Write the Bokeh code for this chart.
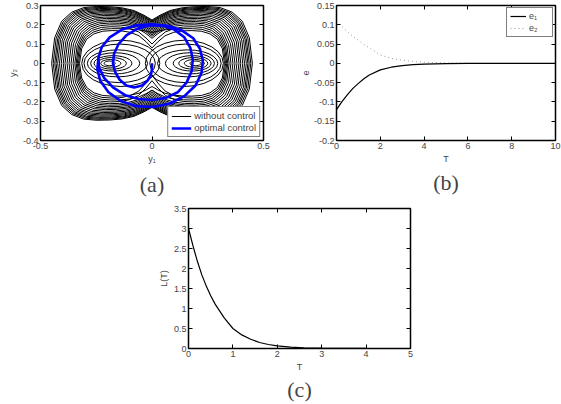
from bokeh.plotting import figure
from bokeh.layouts import row, column
from bokeh.models import (Range1d, FixedTicker, LinearAxis, Spacer, Title,
                          Legend, LegendItem)
from bokeh.embed import file_html
from bokeh.resources import INLINE

# ---------------- data : panel (a) ----------------
# normalised upper-half outline of a two-lobed orbit (x, lobe part, waist part)
BEAN_U = [-1, -0.97, -0.9, -0.8, -0.68, -0.55, -0.42, -0.3, -0.18, -0.08, 0,
          0.08, 0.18, 0.3, 0.42, 0.55, 0.68, 0.8, 0.9, 0.97, 1]
BEAN_A = [0, 0.45, 0.74, 0.9, 0.98, 1.0, 0.98, 0.9, 0.7, 0.35, 0,
          0.35, 0.7, 0.9, 0.98, 1.0, 0.98, 0.9, 0.74, 0.45, 0]
BEAN_B = [0, 0, 0, 0, 0, 0, 0.02, 0.1, 0.3, 0.65, 1,
          0.65, 0.3, 0.1, 0.02, 0, 0, 0, 0, 0, 0]
# orbits of the uncontrolled trajectory: half width, lobe height,
# upper waist height, lower waist height
ORBIT_X = [0.45, 0.443, 0.436, 0.43, 0.423, 0.415, 0.407, 0.398, 0.39, 0.381,
           0.372, 0.363, 0.354, 0.346, 0.34, 0.335, 0.33, 0.325]
ORBIT_Y = [0.295, 0.29, 0.285, 0.28, 0.274, 0.268, 0.262, 0.255, 0.248, 0.24,
           0.233, 0.225, 0.217, 0.209, 0.2, 0.19, 0.18, 0.17]
ORBIT_WT = [0.225, 0.221, 0.216, 0.212, 0.206, 0.2, 0.194, 0.187, 0.18, 0.172,
            0.164, 0.156, 0.148, 0.14, 0.13, 0.1, 0.16, 0.08]
ORBIT_WB = [0.228, 0.224, 0.22, 0.215, 0.21, 0.204, 0.197, 0.19, 0.182, 0.174,
            0.166, 0.157, 0.148, 0.138, 0.09, 0.14, 0.06, 0.12]
# loops inside the two wells
ELL_C = [1, .966, .866, .707, .5, .259, 0, -.259, -.5, -.707, -.866, -.966, -1]
ELL_S = [0, .259, .5, .707, .866, .966, 1, .966, .866, .707, .5, .259, 0]
WELL_CENTER = [-0.19, 0.195]
WELL_R = [0.025, 0.045, 0.065, 0.085, 0.11, 0.135, 0.16, 0.175]
WELL_H = [0.012, 0.02, 0.03, 0.04, 0.055, 0.07, 0.1, 0.12]
WELL_SHIFT = [0, 0.005, 0.01, 0.015, 0.025, 0.035, 0.045, 0.05]
# optimal-control trajectory
OPT_Y1 = [0.0, 0.0, -0.005, -0.02, -0.045, -0.08, -0.115, -0.145, -0.165, -0.175,
          -0.17, -0.15, -0.115, -0.065, -0.01, 0.05, 0.1, 0.145, 0.172, 0.183,
          0.178, 0.155, 0.115, 0.06, 0.0, -0.06, -0.12, -0.175, -0.215, -0.238,
          -0.24, -0.225, -0.19, -0.135, -0.07, 0.0, 0.07, 0.135, 0.185, 0.215,
          0.228, 0.222, 0.195, 0.145, 0.08, 0.005, -0.07, -0.14, -0.195, -0.232,
          -0.245, -0.24]
OPT_Y2 = [0.0, -0.03, -0.06, -0.09, -0.115, -0.125, -0.115, -0.085, -0.045, 0.0,
          0.05, 0.1, 0.145, 0.18, 0.198, 0.195, 0.175, 0.135, 0.08, 0.02,
          -0.04, -0.1, -0.15, -0.18, -0.19, -0.185, -0.165, -0.125, -0.075, -0.02,
          0.03, 0.085, 0.135, 0.175, 0.197, 0.202, 0.195, 0.17, 0.13, 0.075,
          0.015, -0.05, -0.115, -0.17, -0.208, -0.226, -0.222, -0.195, -0.15, -0.09,
          -0.03, 0.03]
A_XTICKS = [-0.5, 0, 0.5]
A_XLABELS = ["-0.5", "0", "0.5"]
A_YTICKS = [-0.4, -0.3, -0.2, -0.1, 0, 0.1, 0.2, 0.3]
A_YLABELS = ["-0.4", "-0.3", "-0.2", "-0.1", "0", "0.1", "0.2", "0.3"]

# ---------------- data : panel (b) ----------------
T_B = [0, 0.25, 0.5, 0.75, 1, 1.25, 1.5, 2, 2.5, 3, 3.5, 4, 5, 6, 7, 8, 9, 10]
E1 = [-0.12, -0.099, -0.081, -0.065, -0.052, -0.04, -0.03, -0.017, -0.01,
      -0.006, -0.0035, -0.002, -0.0007, 0, 0, 0, 0, 0]
E2 = [0.11, 0.095, 0.082, 0.07, 0.06, 0.049, 0.04, 0.022, 0.013, 0.008, 0.005,
      0.003, 0.001, 0, 0, 0, 0, 0]
B_XTICKS = [0, 2, 4, 6, 8, 10]
B_XLABELS = ["0", "2", "4", "6", "8", "10"]
B_YTICKS = [-0.2, -0.15, -0.1, -0.05, 0, 0.05, 0.1, 0.15]
B_YLABELS = ["-0.2", "-0.15", "-0.1", "-0.05", "0", "0.05", "0.1", "0.15"]

# ---------------- data : panel (c) ----------------
T_C = [0, 0.1, 0.2, 0.3, 0.4, 0.5, 0.6, 0.8, 1.0, 1.2, 1.4, 1.6, 1.8, 2.0, 2.3,
       2.6, 3, 3.5, 4, 4.5, 5]
L_T = [3.0, 2.57, 2.18, 1.84, 1.56, 1.32, 1.11, 0.77, 0.5, 0.34, 0.23, 0.15, 0.1,
       0.065, 0.035, 0.018, 0.008, 0.003, 0.001, 0, 0]
C_XTICKS = [0, 1, 2, 3, 4, 5]
C_XLABELS = ["0", "1", "2", "3", "4", "5"]
C_YTICKS = [0, 0.5, 1, 1.5, 2, 2.5, 3, 3.5]
C_YLABELS = ["0", "0.5", "1", "1.5", "2", "2.5", "3", "3.5"]

FONT = "Liberation Sans"
TICK_FS = "9px"


def make_fig(w, h, bl, br, bt, bb, xr, yr):
    p = figure(width=w, height=h, output_backend="svg", toolbar_location=None,
               x_range=Range1d(*xr), y_range=Range1d(*yr),
               min_border_left=bl, min_border_right=br,
               min_border_top=bt, min_border_bottom=bb)
    p.grid.visible = False
    p.outline_line_color = "black"
    p.outline_line_width = 1.5
    p.background_fill_color = "white"
    p.border_fill_color = "white"
    return p


def style_axes(p, xt, xl, yt, yl, xlabel, ylabel, tag, tag_standoff):
    for ax, t, l, lab in ((p.xaxis[0], xt, xl, xlabel), (p.yaxis[0], yt, yl, ylabel)):
        ax.ticker = FixedTicker(ticks=t, minor_ticks=[])
        ax.major_label_overrides = {float(k): v for k, v in zip(t, l)}
        ax.major_tick_in = 4
        ax.major_tick_out = 0
        ax.minor_tick_line_color = None
        ax.axis_line_color = "black"
        ax.major_label_text_font = FONT
        ax.major_label_text_font_size = TICK_FS
        ax.major_label_standoff = 2
        ax.axis_label = lab
        ax.axis_label_text_font = FONT
        ax.axis_label_text_font_size = "9px"
        ax.axis_label_text_font_style = "normal"
        ax.axis_label_standoff = 2
    for loc, t in (("above", xt), ("right", yt)):
        ax = LinearAxis(ticker=FixedTicker(ticks=t, minor_ticks=[]),
                        major_label_text_font_size="1px",
                        major_label_text_color=None,
                        major_label_text_alpha=0,
                        major_tick_in=4, major_tick_out=0,
                        minor_tick_line_color=None,
                        major_label_standoff=0, axis_line_color="black")
        p.add_layout(ax, loc)
    p.add_layout(Title(text=tag, align="center", text_font="Liberation Serif",
                       text_font_size="22px", text_font_style="normal",
                       standoff=tag_standoff), "below")


# ---------------- panel (a) ----------------
pa = make_fig(273, 200, 40, 10, 4, 60, (-0.5, 0.5), (-0.4, 0.3))
xs, ys = [], []
for X, Y, WT, WB in zip(ORBIT_X, ORBIT_Y, ORBIT_WT, ORBIT_WB):
    tx = [X * u for u in BEAN_U]
    ty = [Y * a + WT * b for a, b in zip(BEAN_A, BEAN_B)]
    by = [-(Y * a + WB * b) for a, b in zip(BEAN_A, BEAN_B)]
    xs.append(tx + tx[::-1][1:])
    ys.append(ty + by[::-1][1:])
for cx in WELL_CENTER:
    inward = -1 if cx > 0 else 1
    for R, H, dx in zip(WELL_R, WELL_H, WELL_SHIFT):
        ex = [cx + inward * dx + R * c for c in ELL_C]
        ey = [H * s for s in ELL_S]
        xs.append(ex + ex[::-1][1:])
        ys.append(ey + [-v for v in ey[::-1][1:]])
r_free = pa.multi_line(xs, ys, line_color="black", line_width=1)
r_opt = pa.line(OPT_Y1, OPT_Y2, line_color="#0000ff", line_width=2.6)
style_axes(pa, A_XTICKS, A_XLABELS, A_YTICKS, A_YLABELS, "y\u2081", "y\u2082",
           "(a)", 7)
leg_a = Legend(items=[LegendItem(label="without control", renderers=[r_free]),
                      LegendItem(label="optimal control", renderers=[r_opt])],
               location="bottom_right", label_text_font=FONT,
               label_text_font_size="9.5px", glyph_width=20, glyph_height=10,
               label_height=10, label_standoff=3, padding=3, spacing=1, margin=3,
               border_line_color="black", border_line_width=1.5,
               background_fill_alpha=1)
pa.add_layout(leg_a, "center")

# ---------------- panel (b) ----------------
pb = make_fig(288, 200, 63, 6, 5, 56, (0, 10), (-0.2, 0.15))
r_e2 = pb.line(T_B, E2, line_color="#999999", line_width=1, line_dash="1 3")
r_e1 = pb.line(T_B, E1, line_color="black", line_width=1.2)
style_axes(pb, B_XTICKS, B_XLABELS, B_YTICKS, B_YLABELS, "T", "e", "(b)", 3)
leg_b = Legend(items=[LegendItem(label="e\u2081", renderers=[r_e1]),
                      LegendItem(label="e\u2082", renderers=[r_e2])],
               location="top_right", label_text_font=FONT,
               label_text_font_size="9px", glyph_width=16, glyph_height=10,
               label_height=10, label_standoff=3, padding=3, spacing=2, margin=2,
               border_line_color="black", border_line_width=1.5,
               background_fill_alpha=1)
pb.add_layout(leg_b, "center")

# ---------------- panel (c) ----------------
pc = make_fig(270, 203, 38, 10, 8, 55, (0, 5), (0, 3.5))
pc.line(T_C, L_T, line_color="black", line_width=1.2)
style_axes(pc, C_XTICKS, C_XLABELS, C_YTICKS, C_YLABELS, "T", "L(T)", "(c)", 0)

layout = column(row(pa, pb), row(Spacer(width=150, height=203), pc))
open("out.html", "w").write(file_html(layout, INLINE))
